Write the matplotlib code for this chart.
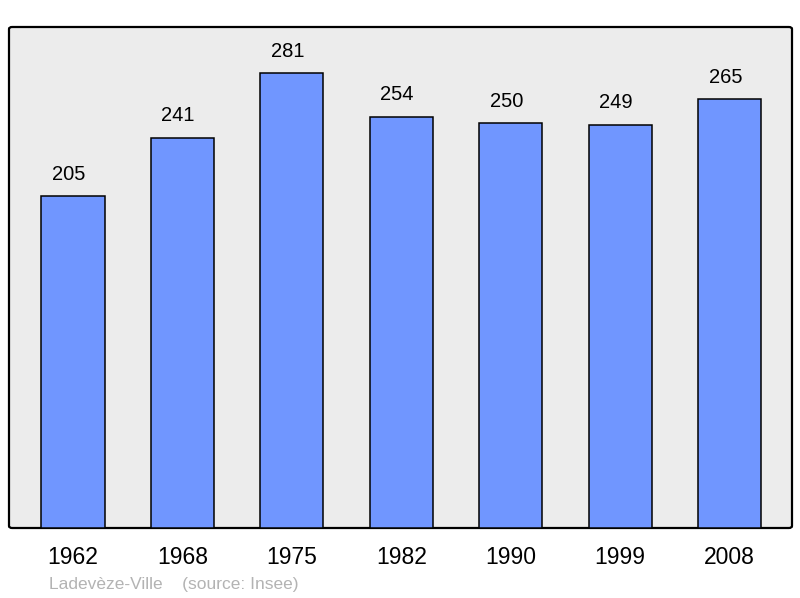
import matplotlib
matplotlib.use("Agg")
import matplotlib.pyplot as plt
from matplotlib.patches import FancyBboxPatch

plt.rcParams['font.family'] = ['Liberation Sans', 'DejaVu Sans']

years = ['1962', '1968', '1975', '1982', '1990', '1999', '2008']
population = [205, 241, 281, 254, 250, 249, 265]

fig = plt.figure(figsize=(8.0, 5.98), dpi=100)
ax = fig.add_axes([9 / 800, 70 / 598, 783 / 800, 501 / 598])
ax.set_facecolor('none')

# rounded grey frame behind the bars
frame = FancyBboxPatch((0, 0), 1, 1, boxstyle='round,pad=0,rounding_size=0.004',
                       transform=ax.transAxes, facecolor='#ececec',
                       edgecolor='black', linewidth=1.6, zorder=0, clip_on=False)
ax.add_patch(frame)

x = list(range(len(years)))
bars = ax.bar(x, population, width=0.576, color='#7096ff', edgecolor='black',
              linewidth=1.1, zorder=2)
for xi, v in zip(x, population):
    ax.annotate(str(v), (xi, v), xytext=(-3, 9), textcoords='offset points',
                ha='center', va='bottom', fontsize=14.5)

ax.set_xlim(-0.585, 6.572)
ax.set_ylim(0, 309.5)
ax.set_yticks([])
ax.set_xticks(x)
ax.set_xticklabels(years, fontsize=16.5)
ax.tick_params(axis='x', length=0, pad=13)
for s in ax.spines.values():
    s.set_visible(False)

fig.text(49 / 800, 1 - 584 / 598, 'Ladevèze-Ville    (source: Insee)',
         fontsize=12.5, color='#b3b3b3', ha='left', va='center')

fig.savefig('out.png', dpi=100)
